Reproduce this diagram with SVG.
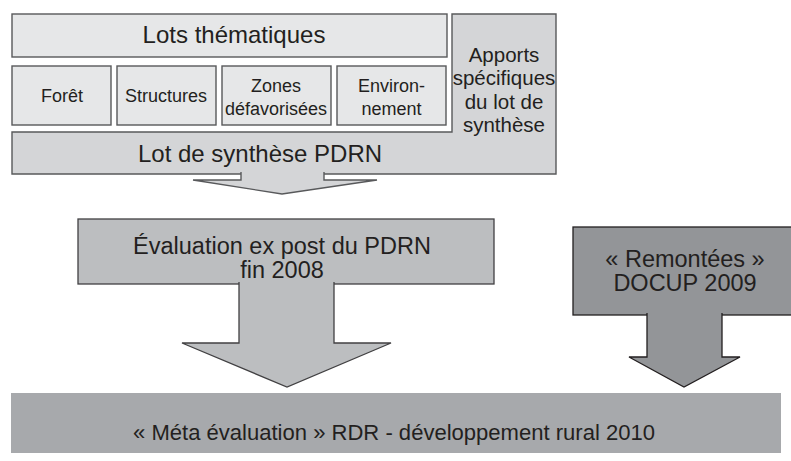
<svg xmlns="http://www.w3.org/2000/svg" width="791" height="461" viewBox="0 0 791 461">
<style>
text{font-family:"Liberation Sans",Arial,sans-serif;fill:#231f20;text-anchor:middle}
.light{fill:#e6e7e8;stroke:#58595b;stroke-width:1.4}
.syn{fill:#d4d5d7;stroke:#58595b;stroke-width:1.4}
.eval{fill:#bcbec0;stroke:#414042;stroke-width:1.3}
.rem{fill:#939598;stroke:#231f20;stroke-width:1.3}
.meta{fill:#a7a9ac}
.t24{font-size:24px}
.t23{font-size:23.5px}
.t18{font-size:18px}
.t20{font-size:20.5px}
.t22{font-size:22px}
</style>
<rect width="791" height="461" fill="#ffffff"/>
<g id="lots-thematiques">
<rect class="light" x="12" y="14" width="435" height="43"/>
<text class="t24" x="234" y="43">Lots thématiques</text>
</g>
<g id="lot-synthese">
<path class="syn" d="M12,132 H452 V14 H556 V174 H12 Z"/>
<text class="t24" x="260" y="162">Lot de synthèse PDRN</text>
</g>
<g id="apports">
<text class="t20" x="504" y="62">Apports</text>
<text class="t20" x="504" y="85">spécifiques</text>
<text class="t20" x="504" y="109">du lot de</text>
<text class="t20" x="504" y="132">synthèse</text>
</g>
<g id="foret">
<rect class="light" x="12" y="66" width="99" height="59"/>
<text class="t18" x="62" y="102">Forêt</text>
</g>
<g id="structures">
<rect class="light" x="117" y="66" width="99" height="59"/>
<text class="t18" x="166" y="102">Structures</text>
</g>
<g id="zones">
<rect class="light" x="222" y="66" width="109" height="59"/>
<text class="t18" x="276" y="92">Zones</text>
<text class="t18" x="276" y="115">défavorisées</text>
</g>
<g id="environnement">
<rect class="light" x="337" y="66" width="109" height="59"/>
<text class="t18" x="391.5" y="92">Environ-</text>
<text class="t18" x="391.5" y="115">nement</text>
</g>
<g id="evaluation">
<rect class="eval" x="78" y="219" width="416" height="65"/>
<text class="t23" x="282" y="254">Évaluation ex post du PDRN</text>
<text class="t23" x="282" y="278">fin 2008</text>
</g>
<g id="remontees">
<rect class="rem" x="573" y="227" width="230" height="88"/>
<text class="t23" x="685" y="267">« Remontées »</text>
<text class="t23" x="685" y="291">DOCUP 2009</text>
</g>
<g id="meta-evaluation">
<rect class="meta" x="11" y="393" width="770" height="60"/>
<text class="t22" x="394" y="440" textLength="522" lengthAdjust="spacingAndGlyphs">« Méta évaluation » RDR - développement rural 2010</text>
</g>
<g id="connectors">
<path class="syn" d="M241,172 V180 H193 L282,194 L377,180 H324 V172"/>
<path class="eval" d="M239,282 V343 H182 L287,387 L391,343 H334 V282"/>
<path class="rem" d="M647,313 V357 H629 L684,387 L740,357 H722 V313"/>
</g>
</svg>
